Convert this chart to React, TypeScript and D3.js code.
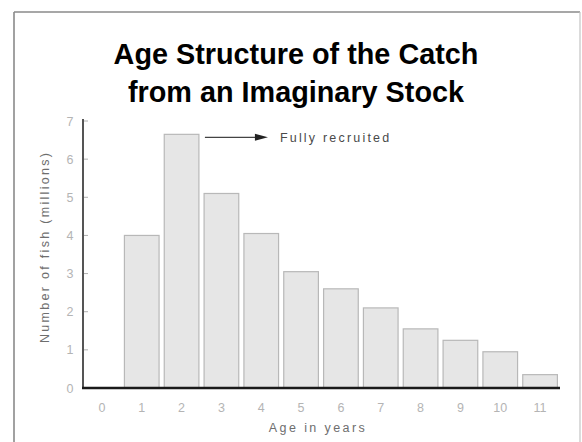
import React from "react";
import * as d3 from "d3";

const ages: number[] = [0, 1, 2, 3, 4, 5, 6, 7, 8, 9, 10, 11];
const catchMillions: number[] = [0, 4.0, 6.65, 5.1, 4.05, 3.05, 2.6, 2.1, 1.55, 1.25, 0.95, 0.35];
const yTicks: number[] = [0, 1, 2, 3, 4, 5, 6, 7];
const titleLines: string[] = ["Age Structure of the Catch", "from an Imaginary Stock"];
const annotationText = "Fully recruited";
const annotationAge = 2;

const W = 582;
const H = 442;

export default function App() {
  const x = d3
    .scaleBand<number>()
    .domain(ages)
    .range([82, 560])
    .paddingInner(0.13)
    .paddingOuter(0.065);
  const y = d3.scaleLinear().domain([0, 7]).range([388, 121]);
  const bw = x.bandwidth();
  const font = "'Liberation Sans', Arial, Helvetica, sans-serif";

  const annX0 = (x(annotationAge) as number) + bw + 6;
  const annY = y(catchMillions[ages.indexOf(annotationAge)]) + 3;
  const annX1 = annX0 + 63;

  return (
    <svg
      width={W}
      height={H}
      viewBox={`0 0 ${W} ${H}`}
      style={{ position: "absolute", left: 0, top: 0, background: "#fff" }}
      fontFamily={font}
    >
      {/* frame */}
      <line x1={14} y1={12} x2={580} y2={12} stroke="#8a8a8a" strokeWidth={1.6} />
      <line x1={14} y1={12} x2={14} y2={442} stroke="#8a8a8a" strokeWidth={1.6} />
      <line x1={580} y1={12} x2={580} y2={442} stroke="#c4c4c4" strokeWidth={1.2} />

      {/* title */}
      {titleLines.map((t, i) => (
        <text
          key={t}
          x={296}
          y={64 + i * 37.5}
          textAnchor="middle"
          fontSize={28.8}
          fontWeight="bold"
          fill="#000"
        >
          {t}
        </text>
      ))}

      {/* bars */}
      {ages.map((a, i) =>
        catchMillions[i] > 0 ? (
          <rect
            key={a}
            x={x(a)}
            y={y(catchMillions[i])}
            width={bw}
            height={y(0) - y(catchMillions[i])}
            fill="#e6e6e6"
            stroke="#b8b8b8"
            strokeWidth={1.2}
          />
        ) : null
      )}

      {/* y ticks */}
      {yTicks.map((t) => (
        <g key={t}>
          <line x1={83} x2={88} y1={y(t)} y2={y(t)} stroke="#b0b0b0" strokeWidth={1} />
          <text
            x={70}
            y={y(t) + 4.5}
            textAnchor="middle"
            fontSize={12.5}
            fill="#b4b4b4"
          >
            {t}
          </text>
        </g>
      ))}

      {/* x tick labels */}
      {ages.map((a) => (
        <text
          key={a}
          x={(x(a) as number) + bw / 2}
          y={412}
          textAnchor="middle"
          fontSize={12.5}
          fill="#b4b4b4"
        >
          {a}
        </text>
      ))}

      {/* axes */}
      <line x1={83} y1={y(7) - 2} x2={83} y2={y(0)} stroke="#555" strokeWidth={2} />
      <line x1={82} y1={y(0)} x2={560} y2={y(0)} stroke="#1a1a1a" strokeWidth={2.5} />

      {/* axis titles */}
      <text
        x={318}
        y={432}
        textAnchor="middle"
        fontSize={12.5}
        letterSpacing={2.4}
        fill="#6e6e6e"
      >
        Age in years
      </text>
      <text
        transform={`translate(49,${y(3.7)}) rotate(-90)`}
        textAnchor="middle"
        fontSize={12.5}
        letterSpacing={2.3}
        fill="#6e6e6e"
      >
        Number of fish (millions)
      </text>

      {/* annotation */}
      <line x1={annX0} y1={annY} x2={annX1 - 10} y2={annY} stroke="#444" strokeWidth={1.2} />
      <path
        d={`M${annX1},${annY} L${annX1 - 13},${annY - 3.5} L${annX1 - 13},${annY + 3.5} Z`}
        fill="#222"
      />
      <text
        x={annX1 + 12}
        y={annY + 4.5}
        fontSize={12.5}
        letterSpacing={2.2}
        fill="#4a4a4a"
      >
        {annotationText}
      </text>
    </svg>
  );
}
